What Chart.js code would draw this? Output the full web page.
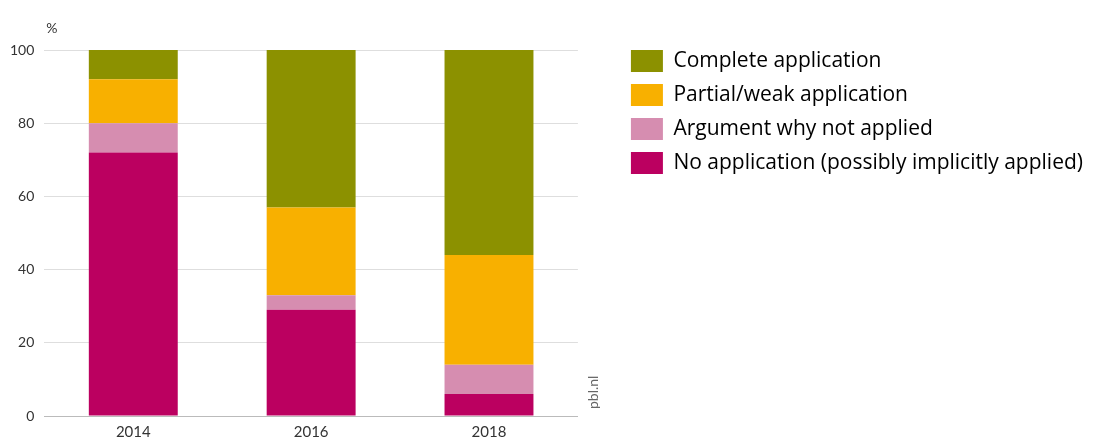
<!DOCTYPE html>
<html>
<head>
<meta charset="utf-8">
<script src="https://cdn.jsdelivr.net/npm/chart.js@4"></script>
<style>
  html, body { margin: 0; padding: 0; background: #fff; }
  #wrap { width: 1120px; height: 440px; }
</style>
</head>
<body>
<div id="wrap"><canvas id="chart" width="1120" height="440"></canvas></div>
<script>
const years = ["2014", "2016", "2018"];
const complete = [8, 43, 56];
const partial = [12, 24, 30];
const argument = [8, 4, 8];
const noApplication = [72, 29, 6];
const yTicks = [0, 20, 40, 60, 80, 100];

// little labels: "%" over the y axis, "pbl.nl" down the right side
const extraText = {
  id: "extraText",
  afterLayout(chart) {
    // lift the legend so its first box lines up with the 100 gridline
    chart.legend.top -= 12;
    chart.legend.bottom -= 12;
  },
  afterDraw(chart) {
    const ctx = chart.ctx;
    const area = chart.chartArea;
    ctx.save();
    ctx.fillStyle = "#333";
    ctx.font = "14px Lato";
    ctx.textAlign = "left";
    ctx.textBaseline = "alphabetic";
    ctx.fillText("%", area.left + 2, area.top - 17);
    ctx.translate(area.right + 20, area.bottom - 7);
    ctx.rotate(-Math.PI / 2);
    ctx.fillStyle = "#666";
    ctx.font = "14px Lato";
    ctx.fillText("pbl.nl", 0, 0);
    ctx.restore();
  },
};

const chart = new Chart(document.getElementById("chart"), {
  type: "bar",
  data: {
    labels: years,
    datasets: [
      { label: "No application (possibly implicitly applied)", data: noApplication, backgroundColor: "#bb0060" },
      { label: "Argument why not applied", data: argument, backgroundColor: "#d68db0" },
      { label: "Partial/weak application", data: partial, backgroundColor: "#f8b000" },
      { label: "Complete application", data: complete, backgroundColor: "#8c9100" },
    ],
  },
  plugins: [extraText],
  options: {
    responsive: false,
    animation: false,
    layout: {
      padding: { top: 50, left: 0, right: 27, bottom: 0 },
    },
    datasets: {
      bar: {
        categoryPercentage: 1,
        barPercentage: 0.5,
        borderWidth: 0,
      },
    },
    scales: {
      x: {
        stacked: true,
        grid: { display: false, drawTicks: false },
        border: { display: true, color: "#bbb", width: 1 },
        ticks: { color: "#333", font: { family: "Lato", size: 15 }, padding: 7 },
        afterFit: (scale) => {
          scale.height = 24;
        },
      },
      y: {
        stacked: true,
        min: 0,
        max: 100,
        afterBuildTicks: (scale) => {
          scale.ticks = yTicks.map((v) => ({ value: v }));
        },
        grid: { color: "#dedede", drawTicks: false },
        border: { display: false },
        ticks: { color: "#333", font: { family: "Lato", size: 14 }, padding: 10 },
      },
      gap: {
        type: "linear",
        position: "right",
        display: true,
        grid: { display: false },
        border: { display: false },
        ticks: { display: false },
        afterFit: (scale) => {
          scale.width = 41;
        },
      },
    },
    plugins: {
      legend: {
        position: "right",
        align: "start",
        reverse: true,
        maxWidth: 700,
        labels: {
          color: "#000",
          font: { family: "Open Sans", size: 21 },
          boxWidth: 32,
          boxHeight: 22,
          padding: 12,
        },
      },
      tooltip: { enabled: false },
    },
  },
});
</script>
</body>
</html>
